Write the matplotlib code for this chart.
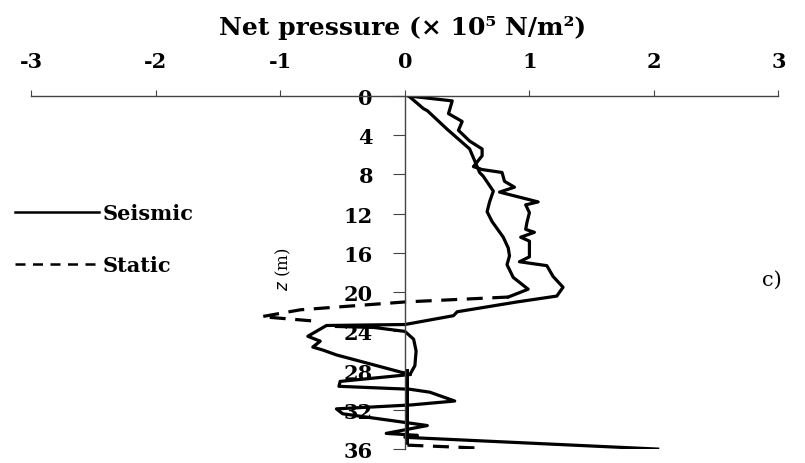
import numpy as np
import matplotlib
matplotlib.use("Agg")
import matplotlib.pyplot as plt
from matplotlib.lines import Line2D

plt.rcParams['font.family'] = ['DejaVu Serif']
plt.rcParams['axes.unicode_minus'] = False

nan = np.nan

# axis ticks
x_ticks = [-3, -2, -1, 0, 1, 2, 3]
z_ticks = [0, 4, 8, 12, 16, 20, 24, 28, 32, 36]

# seismic net pressure (x 1e5 N/m2) vs depth z (m)
seis_x = [0.03, 0.38, 0.35, 0.46, 0.43, 0.52, 0.62, 0.62, 0.55, 0.62, 0.78, 0.8, 0.88, 0.76,
          1.07, 0.97, 1.0, 0.98, 0.97, 1.04, 0.93, 1.0, 1.0, 0.92, 1.14, 1.19, 1.27, 1.22,
          0.9, 0.42, 0.39, 0.0, -0.63, -0.78, -0.68, -0.74, -0.66, -0.55, 0.04,
          0.08, 0.09, 0.07, 0.0, -0.25, -0.55, nan,
          0.04, -0.52, -0.53, 0.04, 0.2, 0.4, 0.05, -0.55, -0.5, 0.18, -0.15, 0.1, 0.0, 2.03]
seis_z = [0.0, 0.5, 1.8, 2.6, 3.5, 4.6, 5.4, 6.1, 7.2, 7.5, 7.8, 8.7, 9.3, 9.8,
          10.8, 11.1, 11.9, 12.9, 13.6, 13.9, 14.4, 14.8, 16.4, 16.9, 17.3, 18.4, 19.5, 20.4,
          21.0, 22.0, 22.4, 23.3, 23.4, 24.5, 25.0, 25.6, 25.9, 26.4, 28.4,
          27.5, 26.0, 24.8, 24.0, 23.6, 23.5, nan,
          28.4, 29.1, 29.6, 29.9, 30.2, 31.1, 31.5, 31.9, 32.4, 33.6, 34.4, 34.6, 34.8, 36.0]

# static net pressure, parts drawn solid in the original
static_solid_x = [0.03, 0.15, 0.18, 0.34, 0.52, 0.56, 0.6, 0.63, 0.71, 0.68, 0.66, 0.7,
                  0.79, 0.83, 0.84, 0.82, 0.87, 0.99, 0.83, nan, 0.02, 0.02]
static_solid_z = [0.0, 1.3, 1.5, 3.4, 5.4, 6.6, 7.8, 8.2, 9.7, 10.8, 11.8, 12.8,
                  14.4, 15.5, 16.3, 17.2, 18.5, 19.7, 20.5, nan, 28.0, 35.4]
# static, dashed parts
static_x = [0.83, 0.0, -0.84, -1.15, -0.68, nan, 0.02, 0.6]
static_z = [20.5, 21.0, 21.8, 22.5, 23.0, nan, 35.6, 35.9]

fig = plt.figure(figsize=(8.05, 4.64), dpi=100)
ax = fig.add_axes([0.039, 0.030, 0.928, 0.761])

lw = 2.3
ax.plot(seis_x, seis_z, color='black', lw=lw, solid_joinstyle='round')
ax.plot(static_solid_x, static_solid_z, color='black', lw=lw, solid_joinstyle='round')
ax.plot(static_x, static_z, color='black', lw=lw, dashes=(5, 3))

ax.set_xlim(-3, 3)
ax.set_ylim(36, 0)
ax.spines['right'].set_visible(False)
ax.spines['bottom'].set_visible(False)
ax.spines['left'].set_position(('data', 0))
for s in ['top', 'left']:
    ax.spines[s].set_color('#444444')
    ax.spines[s].set_linewidth(1.0)
ax.xaxis.tick_top()
ax.set_xticks(x_ticks)
ax.set_yticks(z_ticks)
ax.tick_params(axis='x', direction='out', length=4, pad=14, labelsize=15, color='#444444')
ax.tick_params(axis='y', direction='out', length=9, pad=14, labelsize=15, color='#444444')
for lab in ax.get_xticklabels() + ax.get_yticklabels():
    lab.set_fontweight('bold')

fig.text(0.5, 0.94, 'Net pressure (\u00d7 10\u2075 N/m\u00b2)', ha='center', va='center',
         fontsize=18, fontweight='bold')

ax.text(-0.98, 17.6, '$z$ (m)', rotation=90, ha='center', va='center', fontsize=12)
ax.text(2.95, 18.7, 'c)', ha='center', va='center', fontsize=15)

handles = [Line2D([], [], color='black', lw=1.8),
           Line2D([], [], color='black', lw=1.8, dashes=(4, 3))]
ax.legend(handles, ['Seismic', 'Static'], loc='center left',
          bbox_to_anchor=(0.019, 0.482), bbox_transform=fig.transFigure,
          frameon=False, borderpad=0, borderaxespad=0, handlelength=4.0,
          handletextpad=0.2, labelspacing=1.55,
          prop={'family': 'DejaVu Serif', 'weight': 'bold', 'size': 15})

fig.savefig('out.png', dpi=100)
